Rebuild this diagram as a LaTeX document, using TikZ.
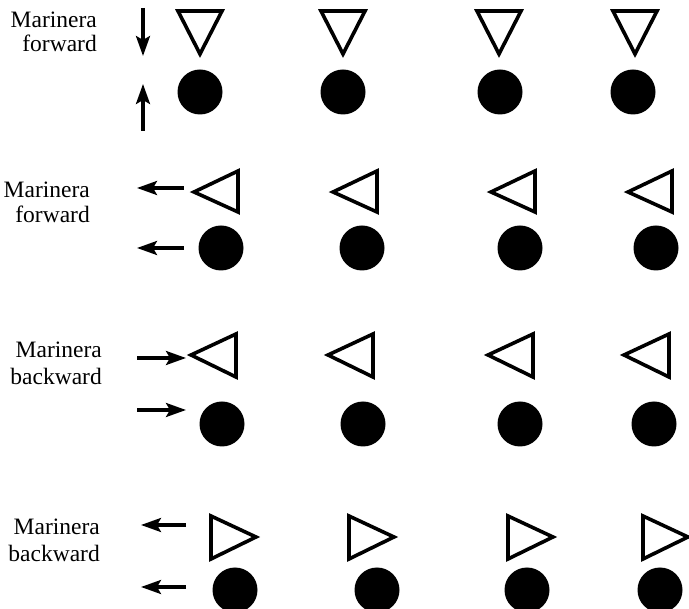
\documentclass[tikz,border=0pt]{standalone}
\usepackage{fontspec}
\setmainfont{Liberation Serif}
\usetikzlibrary{arrows.meta}
\begin{document}
\begin{tikzpicture}[x=1pt,y=-1pt,
  tri/.style={draw=black,line width=3.6pt,line join=miter,fill=white},
  dot/.style={fill=black},
  mv/.style={line width=3.2pt,-{Stealth[length=20pt,width=14pt,inset=4pt]}},
  lbl/.style={font=\fontsize{23.5}{27}\selectfont,inner sep=0pt,anchor=base east}]
\useasboundingbox (0,0) rectangle (689,609);
\clip (0,0) rectangle (689,609);
% ---------- Row 1 : Marinera forward (down triangles)
\node[lbl] (l1a) at (97,28) {Marinera};
\node[lbl] (l1b) at (97,52) {forward};
\coordinate (a1s) at (143,8);  \coordinate (a1e) at (143,56);
\coordinate (a2s) at (143,131); \coordinate (a2e) at (143,84);
\draw[mv] (a1s) -- (a1e);
\draw[mv] (a2s) -- (a2e);
\foreach \x/\c in {200/200,343/343,499/500,635/633}{
  \draw[tri] (\x-22,11) -- (\x+22,11) -- (\x,54) -- cycle;
  \fill[dot] (\c,92) circle (22.5);
}
% ---------- Row 2 : Marinera forward (left triangles, arrows left)
\node[lbl] (l2a) at (90,198) {Marinera};
\node[lbl] (l2b) at (90,223) {forward};
\coordinate (b1s) at (184,188); \coordinate (b1e) at (137,188);
\coordinate (b2s) at (184,248); \coordinate (b2e) at (137,248);
\draw[mv] (b1s) -- (b1e);
\draw[mv] (b2s) -- (b2e);
\foreach \a/\c in {193/221,332/362,490/520,627/656}{
  \draw[tri] (\a+45,171) -- (\a+45,212) -- (\a+1,192) -- cycle;
  \fill[dot] (\c,248) circle (22.5);
}
% ---------- Row 3 : Marinera backward (left triangles, arrows right)
\node[lbl] (l3a) at (102,358) {Marinera};
\node[lbl] (l3b) at (102,385) {backward};
\coordinate (c1s) at (137,358); \coordinate (c1e) at (186,358);
\coordinate (c2s) at (137,410); \coordinate (c2e) at (186,410);
\draw[mv] (c1s) -- (c1e);
\draw[mv] (c2s) -- (c2e);
\foreach \a/\c in {190/222,327/363,487/520,623/654}{
  \draw[tri] (\a+46,334) -- (\a+46,377) -- (\a+1,355) -- cycle;
  \fill[dot] (\c,424) circle (22.5);
}
% ---------- Row 4 : Marinera backward (right triangles, arrows left)
\node[lbl] (l4a) at (100,535) {Marinera};
\node[lbl] (l4b) at (100,562) {backward};
\coordinate (d1s) at (186,525); \coordinate (d1e) at (141,525);
\coordinate (d2s) at (186,587); \coordinate (d2e) at (141,587);
\draw[mv] (d1s) -- (d1e);
\draw[mv] (d2s) -- (d2e);
\foreach \l/\c in {210/235,348/377,507/527,642/660}{
  \draw[tri] (\l+1,516) -- (\l+1,559) -- (\l+46,537) -- cycle;
  \fill[dot] (\c,590) circle (22.5);
}
\end{tikzpicture}
\end{document}
